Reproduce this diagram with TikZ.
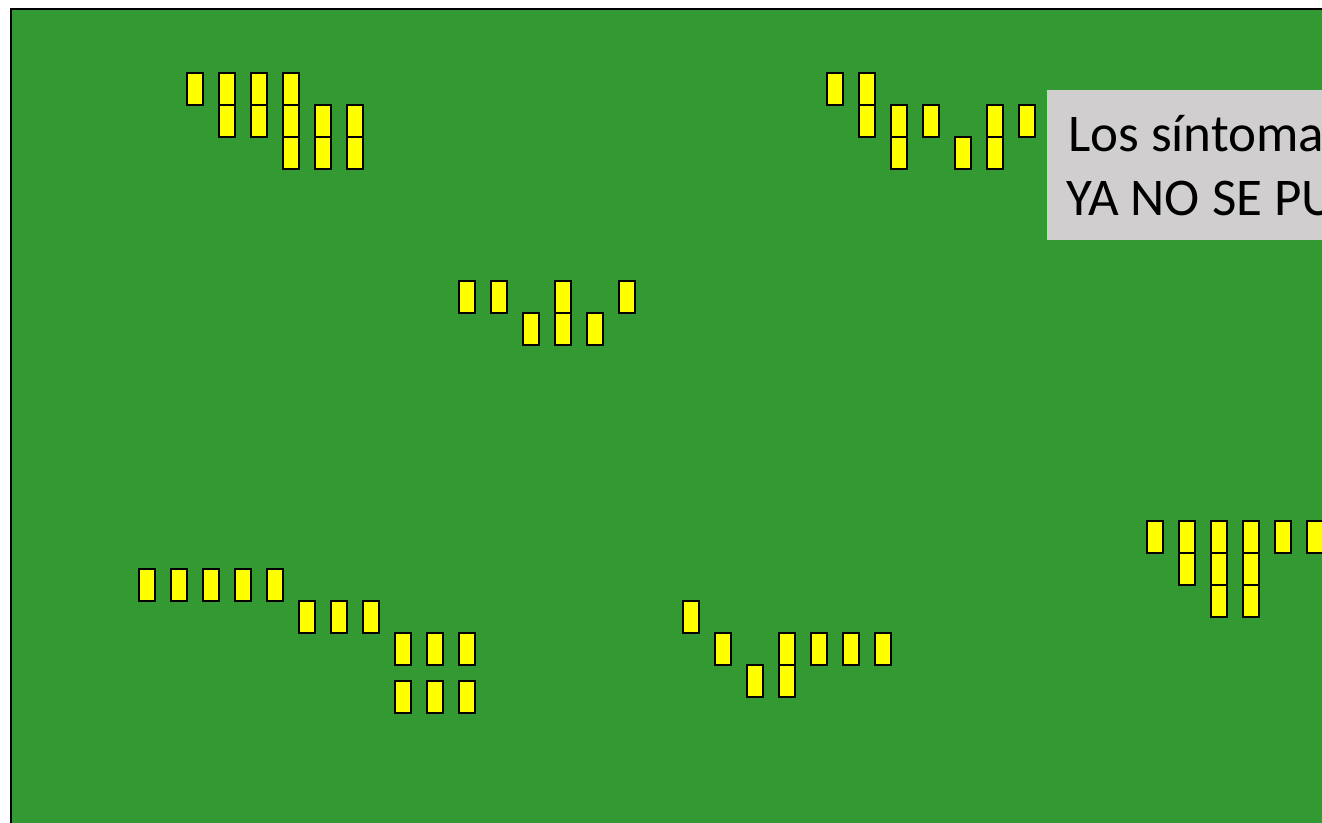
\documentclass[tikz,border=0pt]{standalone}
\usepackage{fontspec}
\setmainfont{Carlito}
\definecolor{field}{RGB}{51,153,51}
\definecolor{plant}{RGB}{255,255,0}
\definecolor{note}{RGB}{208,206,206}
\tikzset{
  cell/.style={draw=black, fill=plant, line width=2pt},
  fieldbox/.style={draw=black, fill=field, line width=2pt},
  notebox/.style={fill=note, draw=none},
  notetext/.style={anchor=base west, inner sep=0pt, font=\fontsize{53}{64}\selectfont, text=black}
}
\begin{document}
\begin{tikzpicture}[x=1pt,y=-1pt]
\useasboundingbox (0,0) rectangle (1322,822);
\clip (0,0) rectangle (1322,822);
\draw[fieldbox] (11,9) rectangle (1340,840);
% group 1
\foreach \X/\Y in {186/72, 218/72,218/104, 250/72,250/104, 282/72,282/104,282/136, 314/104,314/136, 346/104,346/136}
  {\draw[cell] (\X+1,\Y+1) rectangle ++(16,32);}
% group 2
\foreach \X/\Y in {826/72, 858/72,858/104, 890/104,890/136, 922/104, 954/136, 986/104,986/136, 1018/104}
  {\draw[cell] (\X+1,\Y+1) rectangle ++(16,32);}
% group 3
\foreach \X/\Y in {458/280, 490/280, 522/312, 554/280,554/312, 586/312, 618/280}
  {\draw[cell] (\X+1,\Y+1) rectangle ++(16,32);}
% group 4
\foreach \X/\Y in {138/568,170/568,202/568,234/568,266/568, 298/600,330/600,362/600, 394/632,426/632,458/632, 394/680,426/680,458/680}
  {\draw[cell] (\X+1,\Y+1) rectangle ++(16,32);}
% group 5
\foreach \X/\Y in {682/600, 714/632, 746/664, 778/632,778/664, 810/632, 842/632, 874/632}
  {\draw[cell] (\X+1,\Y+1) rectangle ++(16,32);}
% group 6
\foreach \X/\Y in {1146/520, 1178/520,1178/552, 1210/520,1210/552,1210/584, 1242/520,1242/552,1242/584, 1274/520, 1306/520}
  {\draw[cell] (\X+1,\Y+1) rectangle ++(16,32);}
% note box
\fill[notebox] (1047,90) rectangle (1340,240);
\node[notetext] (l1) at (1068,151) {Los síntoma};
\node[notetext] (l2) at (1066,215) {YA NO SE PU};
\end{tikzpicture}
\end{document}
